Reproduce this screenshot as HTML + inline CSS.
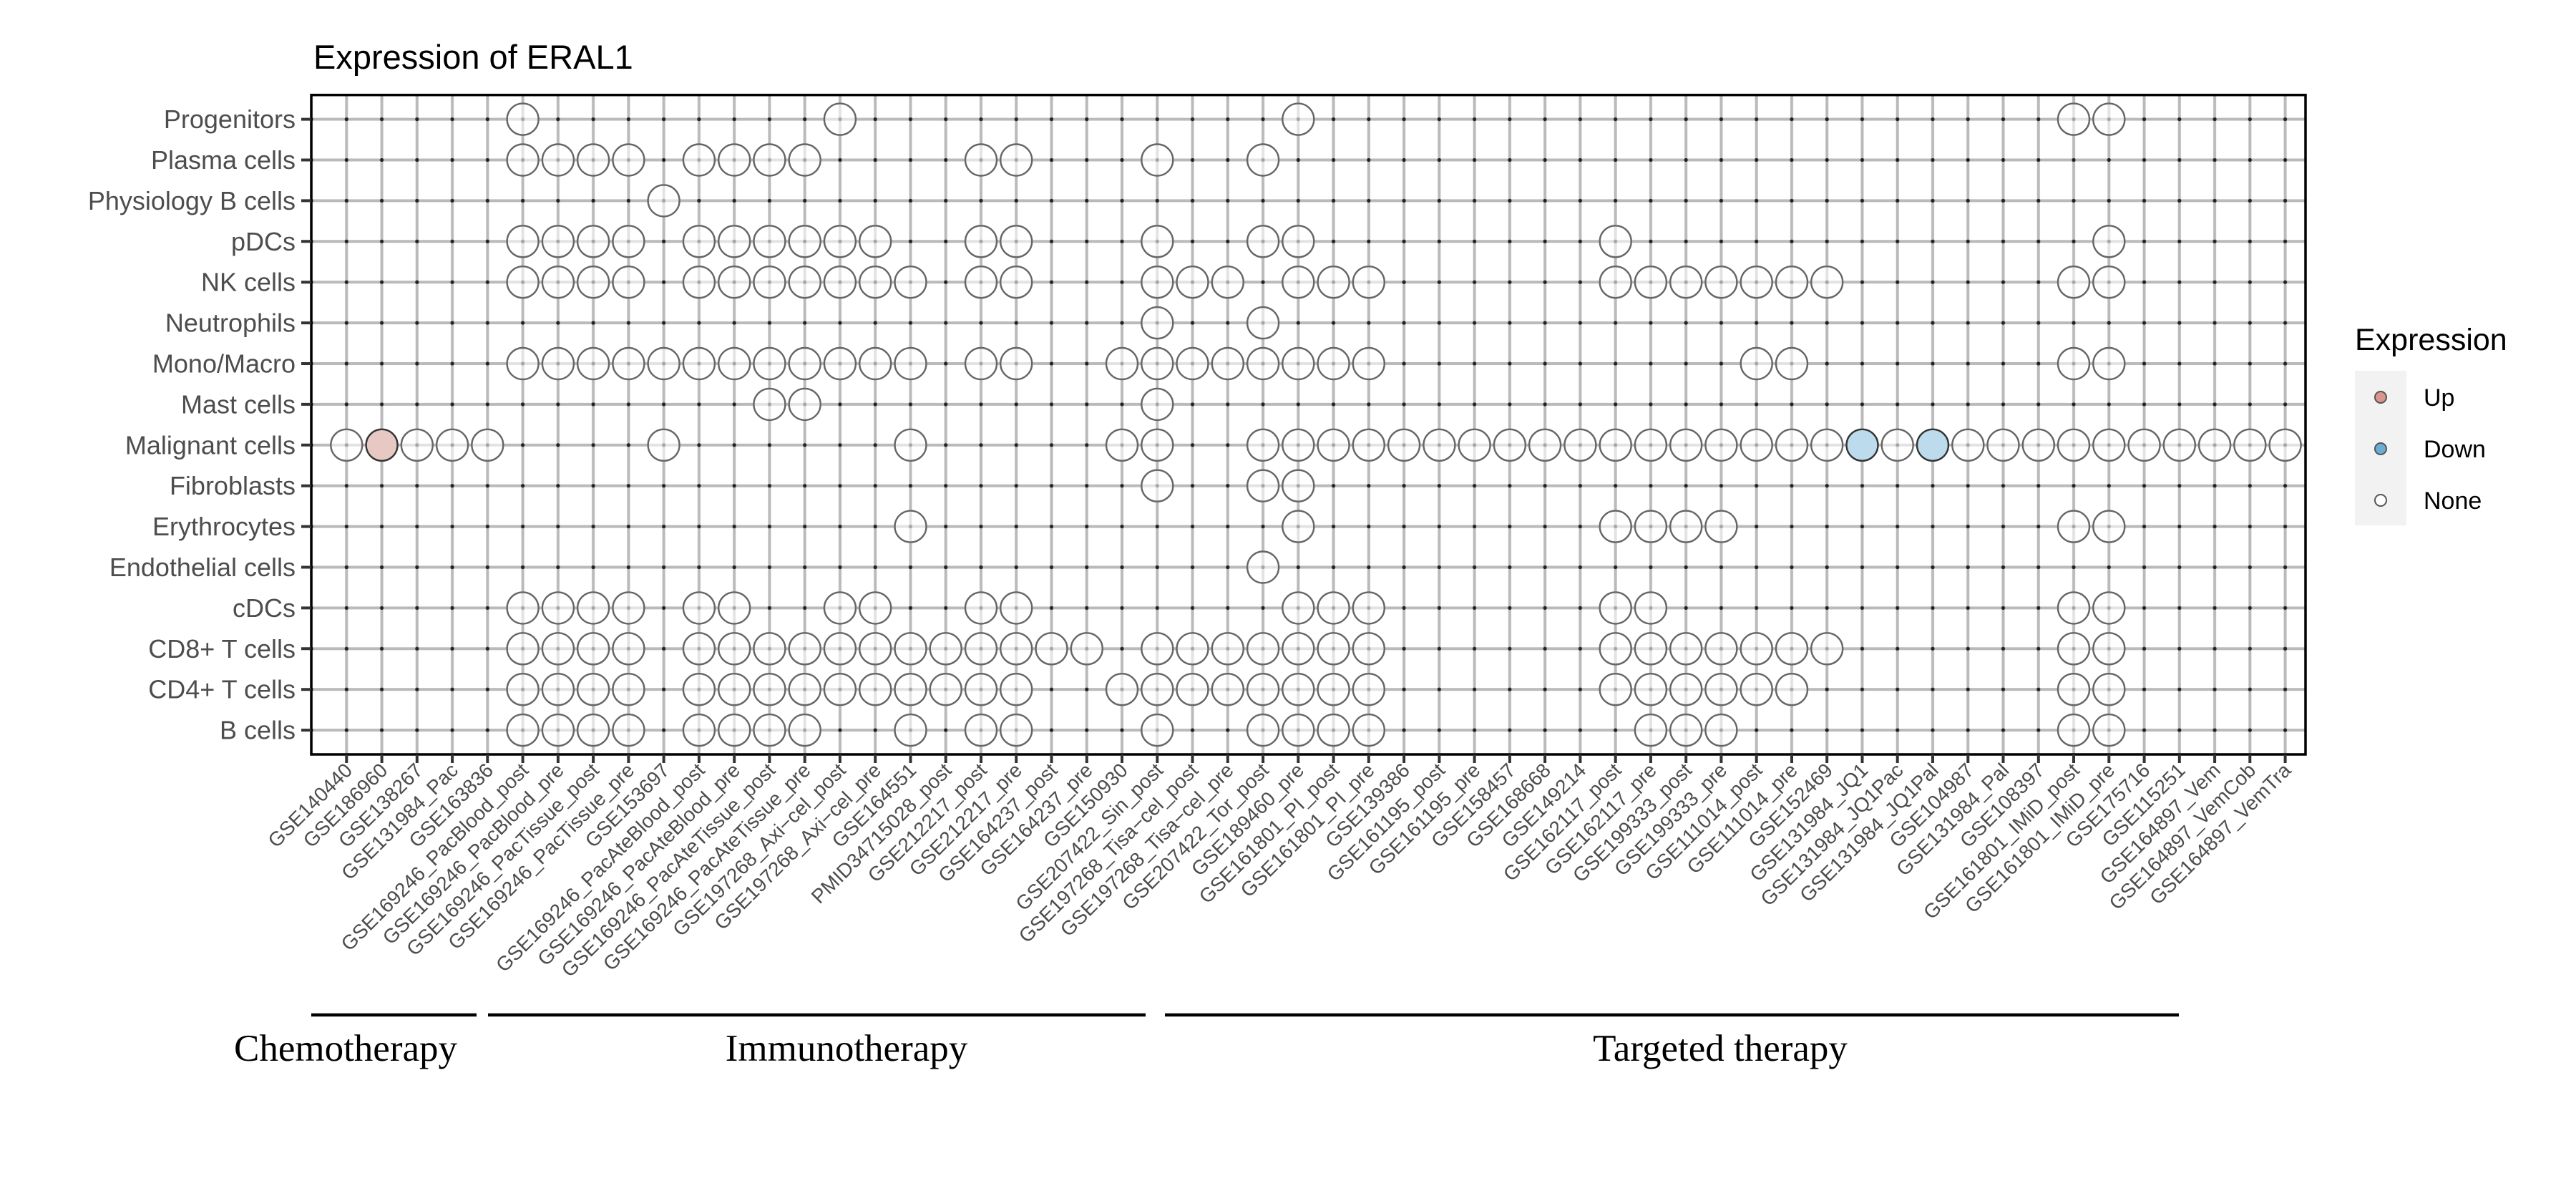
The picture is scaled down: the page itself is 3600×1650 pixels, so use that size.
<!DOCTYPE html>
<html><head><meta charset="utf-8"><style>
html,body{margin:0;padding:0;background:#fff;}
svg{display:block;}
.yl{font-family:"Liberation Sans",sans-serif;font-size:36px;fill:#4d4d4d;text-anchor:end;}
.xl{font-family:"Liberation Sans",sans-serif;font-size:28px;fill:#4d4d4d;text-anchor:end;}
.c circle{fill:#fff;fill-opacity:0.6;stroke:#666;stroke-width:2.4;}
</style></head><body>
<svg width="3600" height="1650" viewBox="0 0 3600 1650" xmlns="http://www.w3.org/2000/svg">
<defs>
<pattern id="g" patternUnits="userSpaceOnUse" x="459.67" y="138.15" width="49.26" height="56.9">
<rect x="22.63" y="0" width="4" height="56.9" fill="#bababa"/>
<rect x="0" y="26.45" width="49.26" height="4" fill="#bababa"/>
<circle cx="24.63" cy="28.45" r="2.6" fill="#222"/>
</pattern>
</defs>
<rect width="3600" height="1650" fill="#fff"/>
<text x="438" y="96" font-family="Liberation Sans, sans-serif" font-size="47" fill="#000">Expression of ERAL1</text>
<rect x="435" y="132.7" width="2787" height="921.3" fill="url(#g)"/>

<g class="c">
<g transform="translate(0,166.6)"><circle cx="730.6" r="22"/><circle cx="1173.9" r="22"/><circle cx="1814.3" r="22"/><circle cx="2898.0" r="22"/><circle cx="2947.3" r="22"/></g>
<g transform="translate(0,223.5)"><circle cx="730.6" r="22"/><circle cx="779.9" r="22"/><circle cx="829.1" r="22"/><circle cx="878.4" r="22"/><circle cx="976.9" r="22"/><circle cx="1026.2" r="22"/><circle cx="1075.4" r="22"/><circle cx="1124.7" r="22"/><circle cx="1371.0" r="22"/><circle cx="1420.2" r="22"/><circle cx="1617.3" r="22"/><circle cx="1765.1" r="22"/></g>
<g transform="translate(0,280.4)"><circle cx="927.6" r="22"/></g>
<g transform="translate(0,337.3)"><circle cx="730.6" r="22"/><circle cx="779.9" r="22"/><circle cx="829.1" r="22"/><circle cx="878.4" r="22"/><circle cx="976.9" r="22"/><circle cx="1026.2" r="22"/><circle cx="1075.4" r="22"/><circle cx="1124.7" r="22"/><circle cx="1173.9" r="22"/><circle cx="1223.2" r="22"/><circle cx="1371.0" r="22"/><circle cx="1420.2" r="22"/><circle cx="1617.3" r="22"/><circle cx="1765.1" r="22"/><circle cx="1814.3" r="22"/><circle cx="2257.7" r="22"/><circle cx="2947.3" r="22"/></g>
<g transform="translate(0,394.2)"><circle cx="730.6" r="22"/><circle cx="779.9" r="22"/><circle cx="829.1" r="22"/><circle cx="878.4" r="22"/><circle cx="976.9" r="22"/><circle cx="1026.2" r="22"/><circle cx="1075.4" r="22"/><circle cx="1124.7" r="22"/><circle cx="1173.9" r="22"/><circle cx="1223.2" r="22"/><circle cx="1272.5" r="22"/><circle cx="1371.0" r="22"/><circle cx="1420.2" r="22"/><circle cx="1617.3" r="22"/><circle cx="1666.5" r="22"/><circle cx="1715.8" r="22"/><circle cx="1814.3" r="22"/><circle cx="1863.6" r="22"/><circle cx="1912.8" r="22"/><circle cx="2257.7" r="22"/><circle cx="2306.9" r="22"/><circle cx="2356.2" r="22"/><circle cx="2405.4" r="22"/><circle cx="2454.7" r="22"/><circle cx="2504.0" r="22"/><circle cx="2553.2" r="22"/><circle cx="2898.0" r="22"/><circle cx="2947.3" r="22"/></g>
<g transform="translate(0,451.1)"><circle cx="1617.3" r="22"/><circle cx="1765.1" r="22"/></g>
<g transform="translate(0,508.0)"><circle cx="730.6" r="22"/><circle cx="779.9" r="22"/><circle cx="829.1" r="22"/><circle cx="878.4" r="22"/><circle cx="927.6" r="22"/><circle cx="976.9" r="22"/><circle cx="1026.2" r="22"/><circle cx="1075.4" r="22"/><circle cx="1124.7" r="22"/><circle cx="1173.9" r="22"/><circle cx="1223.2" r="22"/><circle cx="1272.5" r="22"/><circle cx="1371.0" r="22"/><circle cx="1420.2" r="22"/><circle cx="1568.0" r="22"/><circle cx="1617.3" r="22"/><circle cx="1666.5" r="22"/><circle cx="1715.8" r="22"/><circle cx="1765.1" r="22"/><circle cx="1814.3" r="22"/><circle cx="1863.6" r="22"/><circle cx="1912.8" r="22"/><circle cx="2454.7" r="22"/><circle cx="2504.0" r="22"/><circle cx="2898.0" r="22"/><circle cx="2947.3" r="22"/></g>
<g transform="translate(0,564.9)"><circle cx="1075.4" r="22"/><circle cx="1124.7" r="22"/><circle cx="1617.3" r="22"/></g>
<g transform="translate(0,621.8)"><circle cx="484.3" r="22"/><circle cx="582.8" r="22"/><circle cx="632.1" r="22"/><circle cx="681.3" r="22"/><circle cx="927.6" r="22"/><circle cx="1272.5" r="22"/><circle cx="1568.0" r="22"/><circle cx="1617.3" r="22"/><circle cx="1765.1" r="22"/><circle cx="1814.3" r="22"/><circle cx="1863.6" r="22"/><circle cx="1912.8" r="22"/><circle cx="1962.1" r="22"/><circle cx="2011.4" r="22"/><circle cx="2060.6" r="22"/><circle cx="2109.9" r="22"/><circle cx="2159.1" r="22"/><circle cx="2208.4" r="22"/><circle cx="2257.7" r="22"/><circle cx="2306.9" r="22"/><circle cx="2356.2" r="22"/><circle cx="2405.4" r="22"/><circle cx="2454.7" r="22"/><circle cx="2504.0" r="22"/><circle cx="2553.2" r="22"/><circle cx="2651.7" r="22"/><circle cx="2750.3" r="22"/><circle cx="2799.5" r="22"/><circle cx="2848.8" r="22"/><circle cx="2898.0" r="22"/><circle cx="2947.3" r="22"/><circle cx="2996.6" r="22"/><circle cx="3045.8" r="22"/><circle cx="3095.1" r="22"/><circle cx="3144.3" r="22"/><circle cx="3193.6" r="22"/>
<circle cx="533.6" r="22" style="fill:#e8c8c3;fill-opacity:1;stroke:#333"/><circle cx="2602.5" r="22" style="fill:#bcdbec;fill-opacity:1;stroke:#333"/><circle cx="2701.0" r="22" style="fill:#bcdbec;fill-opacity:1;stroke:#333"/></g>
<g transform="translate(0,678.7)"><circle cx="1617.3" r="22"/><circle cx="1765.1" r="22"/><circle cx="1814.3" r="22"/></g>
<g transform="translate(0,735.6)"><circle cx="1272.5" r="22"/><circle cx="1814.3" r="22"/><circle cx="2257.7" r="22"/><circle cx="2306.9" r="22"/><circle cx="2356.2" r="22"/><circle cx="2405.4" r="22"/><circle cx="2898.0" r="22"/><circle cx="2947.3" r="22"/></g>
<g transform="translate(0,792.5)"><circle cx="1765.1" r="22"/></g>
<g transform="translate(0,849.4)"><circle cx="730.6" r="22"/><circle cx="779.9" r="22"/><circle cx="829.1" r="22"/><circle cx="878.4" r="22"/><circle cx="976.9" r="22"/><circle cx="1026.2" r="22"/><circle cx="1173.9" r="22"/><circle cx="1223.2" r="22"/><circle cx="1371.0" r="22"/><circle cx="1420.2" r="22"/><circle cx="1814.3" r="22"/><circle cx="1863.6" r="22"/><circle cx="1912.8" r="22"/><circle cx="2257.7" r="22"/><circle cx="2306.9" r="22"/><circle cx="2898.0" r="22"/><circle cx="2947.3" r="22"/></g>
<g transform="translate(0,906.3)"><circle cx="730.6" r="22"/><circle cx="779.9" r="22"/><circle cx="829.1" r="22"/><circle cx="878.4" r="22"/><circle cx="976.9" r="22"/><circle cx="1026.2" r="22"/><circle cx="1075.4" r="22"/><circle cx="1124.7" r="22"/><circle cx="1173.9" r="22"/><circle cx="1223.2" r="22"/><circle cx="1272.5" r="22"/><circle cx="1321.7" r="22"/><circle cx="1371.0" r="22"/><circle cx="1420.2" r="22"/><circle cx="1469.5" r="22"/><circle cx="1518.8" r="22"/><circle cx="1617.3" r="22"/><circle cx="1666.5" r="22"/><circle cx="1715.8" r="22"/><circle cx="1765.1" r="22"/><circle cx="1814.3" r="22"/><circle cx="1863.6" r="22"/><circle cx="1912.8" r="22"/><circle cx="2257.7" r="22"/><circle cx="2306.9" r="22"/><circle cx="2356.2" r="22"/><circle cx="2405.4" r="22"/><circle cx="2454.7" r="22"/><circle cx="2504.0" r="22"/><circle cx="2553.2" r="22"/><circle cx="2898.0" r="22"/><circle cx="2947.3" r="22"/></g>
<g transform="translate(0,963.2)"><circle cx="730.6" r="22"/><circle cx="779.9" r="22"/><circle cx="829.1" r="22"/><circle cx="878.4" r="22"/><circle cx="976.9" r="22"/><circle cx="1026.2" r="22"/><circle cx="1075.4" r="22"/><circle cx="1124.7" r="22"/><circle cx="1173.9" r="22"/><circle cx="1223.2" r="22"/><circle cx="1272.5" r="22"/><circle cx="1321.7" r="22"/><circle cx="1371.0" r="22"/><circle cx="1420.2" r="22"/><circle cx="1568.0" r="22"/><circle cx="1617.3" r="22"/><circle cx="1666.5" r="22"/><circle cx="1715.8" r="22"/><circle cx="1765.1" r="22"/><circle cx="1814.3" r="22"/><circle cx="1863.6" r="22"/><circle cx="1912.8" r="22"/><circle cx="2257.7" r="22"/><circle cx="2306.9" r="22"/><circle cx="2356.2" r="22"/><circle cx="2405.4" r="22"/><circle cx="2454.7" r="22"/><circle cx="2504.0" r="22"/><circle cx="2898.0" r="22"/><circle cx="2947.3" r="22"/></g>
<g transform="translate(0,1020.1)"><circle cx="730.6" r="22"/><circle cx="779.9" r="22"/><circle cx="829.1" r="22"/><circle cx="878.4" r="22"/><circle cx="976.9" r="22"/><circle cx="1026.2" r="22"/><circle cx="1075.4" r="22"/><circle cx="1124.7" r="22"/><circle cx="1272.5" r="22"/><circle cx="1371.0" r="22"/><circle cx="1420.2" r="22"/><circle cx="1617.3" r="22"/><circle cx="1765.1" r="22"/><circle cx="1814.3" r="22"/><circle cx="1863.6" r="22"/><circle cx="1912.8" r="22"/><circle cx="2306.9" r="22"/><circle cx="2356.2" r="22"/><circle cx="2405.4" r="22"/><circle cx="2898.0" r="22"/><circle cx="2947.3" r="22"/></g>
</g>

<rect x="435" y="132.7" width="2787" height="921.3" fill="none" stroke="#000" stroke-width="3.5"/>

<path d="M421 166.6H435M421 223.5H435M421 280.4H435M421 337.3H435M421 394.2H435M421 451.1H435M421 508H435M421 564.9H435M421 621.8H435M421 678.7H435M421 735.6H435M421 792.5H435M421 849.4H435M421 906.3H435M421 963.2H435M421 1020.1H435" stroke="#333" stroke-width="4"/>
<g class="yl">
<text x="413" y="179.1">Progenitors</text>
<text x="413" y="236">Plasma cells</text>
<text x="413" y="292.9">Physiology B cells</text>
<text x="413" y="349.8">pDCs</text>
<text x="413" y="406.7">NK cells</text>
<text x="413" y="463.6">Neutrophils</text>
<text x="413" y="520.5">Mono/Macro</text>
<text x="413" y="577.4">Mast cells</text>
<text x="413" y="634.3">Malignant cells</text>
<text x="413" y="691.2">Fibroblasts</text>
<text x="413" y="748.1">Erythrocytes</text>
<text x="413" y="805">Endothelial cells</text>
<text x="413" y="861.9">cDCs</text>
<text x="413" y="918.8">CD8+ T cells</text>
<text x="413" y="975.7">CD4+ T cells</text>
<text x="413" y="1032.6">B cells</text>
</g>

<g stroke="#333" stroke-width="4">
<path d="M484.3 1054v12M533.6 1054v12M582.8 1054v12M632.1 1054v12M681.3 1054v12M730.6 1054v12M779.9 1054v12M829.1 1054v12M878.4 1054v12M927.6 1054v12M976.9 1054v12M1026.2 1054v12M1075.4 1054v12M1124.7 1054v12M1173.9 1054v12M1223.2 1054v12M1272.5 1054v12M1321.7 1054v12M1371 1054v12M1420.2 1054v12M1469.5 1054v12M1518.8 1054v12M1568 1054v12M1617.3 1054v12M1666.5 1054v12M1715.8 1054v12M1765.1 1054v12M1814.3 1054v12M1863.6 1054v12M1912.8 1054v12M1962.1 1054v12M2011.4 1054v12M2060.6 1054v12M2109.9 1054v12M2159.1 1054v12M2208.4 1054v12M2257.7 1054v12M2306.9 1054v12M2356.2 1054v12M2405.4 1054v12M2454.7 1054v12M2504 1054v12M2553.2 1054v12M2602.5 1054v12M2651.7 1054v12M2701 1054v12M2750.3 1054v12M2799.5 1054v12M2848.8 1054v12M2898 1054v12M2947.3 1054v12M2996.6 1054v12M3045.8 1054v12M3095.1 1054v12M3144.3 1054v12M3193.6 1054v12"/>
</g>
<g class="xl">
<text transform="translate(494,1078) rotate(-45)">GSE140440</text>
<text transform="translate(543.3,1078) rotate(-45)">GSE186960</text>
<text transform="translate(592.5,1078) rotate(-45)">GSE138267</text>
<text transform="translate(641.8,1078) rotate(-45)">GSE131984_Pac</text>
<text transform="translate(691,1078) rotate(-45)">GSE163836</text>
<text transform="translate(740.3,1078) rotate(-45)">GSE169246_PacBlood_post</text>
<text transform="translate(789.6,1078) rotate(-45)">GSE169246_PacBlood_pre</text>
<text transform="translate(838.8,1078) rotate(-45)">GSE169246_PacTissue_post</text>
<text transform="translate(888.1,1078) rotate(-45)">GSE169246_PacTissue_pre</text>
<text transform="translate(937.3,1078) rotate(-45)">GSE153697</text>
<text transform="translate(986.6,1078) rotate(-45)">GSE169246_PacAteBlood_post</text>
<text transform="translate(1035.9,1078) rotate(-45)">GSE169246_PacAteBlood_pre</text>
<text transform="translate(1085.1,1078) rotate(-45)">GSE169246_PacAteTissue_post</text>
<text transform="translate(1134.4,1078) rotate(-45)">GSE169246_PacAteTissue_pre</text>
<text transform="translate(1183.6,1078) rotate(-45)">GSE197268_Axi−cel_post</text>
<text transform="translate(1232.9,1078) rotate(-45)">GSE197268_Axi−cel_pre</text>
<text transform="translate(1282.2,1078) rotate(-45)">GSE164551</text>
<text transform="translate(1331.4,1078) rotate(-45)">PMID34715028_post</text>
<text transform="translate(1380.7,1078) rotate(-45)">GSE212217_post</text>
<text transform="translate(1429.9,1078) rotate(-45)">GSE212217_pre</text>
<text transform="translate(1479.2,1078) rotate(-45)">GSE164237_post</text>
<text transform="translate(1528.5,1078) rotate(-45)">GSE164237_pre</text>
<text transform="translate(1577.7,1078) rotate(-45)">GSE150930</text>
<text transform="translate(1627,1078) rotate(-45)">GSE207422_Sin_post</text>
<text transform="translate(1676.2,1078) rotate(-45)">GSE197268_Tisa−cel_post</text>
<text transform="translate(1725.5,1078) rotate(-45)">GSE197268_Tisa−cel_pre</text>
<text transform="translate(1774.8,1078) rotate(-45)">GSE207422_Tor_post</text>
<text transform="translate(1824,1078) rotate(-45)">GSE189460_pre</text>
<text transform="translate(1873.3,1078) rotate(-45)">GSE161801_PI_post</text>
<text transform="translate(1922.5,1078) rotate(-45)">GSE161801_PI_pre</text>
<text transform="translate(1971.8,1078) rotate(-45)">GSE139386</text>
<text transform="translate(2021.1,1078) rotate(-45)">GSE161195_post</text>
<text transform="translate(2070.3,1078) rotate(-45)">GSE161195_pre</text>
<text transform="translate(2119.6,1078) rotate(-45)">GSE158457</text>
<text transform="translate(2168.8,1078) rotate(-45)">GSE168668</text>
<text transform="translate(2218.1,1078) rotate(-45)">GSE149214</text>
<text transform="translate(2267.4,1078) rotate(-45)">GSE162117_post</text>
<text transform="translate(2316.6,1078) rotate(-45)">GSE162117_pre</text>
<text transform="translate(2365.9,1078) rotate(-45)">GSE199333_post</text>
<text transform="translate(2415.1,1078) rotate(-45)">GSE199333_pre</text>
<text transform="translate(2464.4,1078) rotate(-45)">GSE111014_post</text>
<text transform="translate(2513.7,1078) rotate(-45)">GSE111014_pre</text>
<text transform="translate(2562.9,1078) rotate(-45)">GSE152469</text>
<text transform="translate(2612.2,1078) rotate(-45)">GSE131984_JQ1</text>
<text transform="translate(2661.4,1078) rotate(-45)">GSE131984_JQ1Pac</text>
<text transform="translate(2710.7,1078) rotate(-45)">GSE131984_JQ1Pal</text>
<text transform="translate(2760,1078) rotate(-45)">GSE104987</text>
<text transform="translate(2809.2,1078) rotate(-45)">GSE131984_Pal</text>
<text transform="translate(2858.5,1078) rotate(-45)">GSE108397</text>
<text transform="translate(2907.7,1078) rotate(-45)">GSE161801_IMiD_post</text>
<text transform="translate(2957,1078) rotate(-45)">GSE161801_IMiD_pre</text>
<text transform="translate(3006.3,1078) rotate(-45)">GSE175716</text>
<text transform="translate(3055.5,1078) rotate(-45)">GSE115251</text>
<text transform="translate(3104.8,1078) rotate(-45)">GSE164897_Vem</text>
<text transform="translate(3154,1078) rotate(-45)">GSE164897_VemCob</text>
<text transform="translate(3203.3,1078) rotate(-45)">GSE164897_VemTra</text>
</g>

<path d="M435 1418H666M682 1418H1601M1628 1418H3045" stroke="#000" stroke-width="4.5"/>
<g font-family="Liberation Serif, serif" font-size="53" fill="#000" text-anchor="middle">
<text x="483" y="1482">Chemotherapy</text>
<text x="1183" y="1482">Immunotherapy</text>
<text x="2404" y="1482">Targeted therapy</text>
</g>

<text x="3291" y="489" font-family="Liberation Sans, sans-serif" font-size="43" fill="#000">Expression</text>
<rect x="3291" y="518" width="72" height="216" fill="#f2f2f2"/>
<circle cx="3327" cy="555" r="8" fill="#d9968a" stroke="#555" stroke-width="2"/>
<circle cx="3327" cy="627" r="8" fill="#6aaed6" stroke="#555" stroke-width="2"/>
<circle cx="3327" cy="699" r="8" fill="#fff" stroke="#555" stroke-width="2"/>
<g font-family="Liberation Sans, sans-serif" font-size="34" fill="#000">
<text x="3387" y="567">Up</text>
<text x="3387" y="639">Down</text>
<text x="3387" y="711">None</text>
</g>
</svg>
</body></html>
